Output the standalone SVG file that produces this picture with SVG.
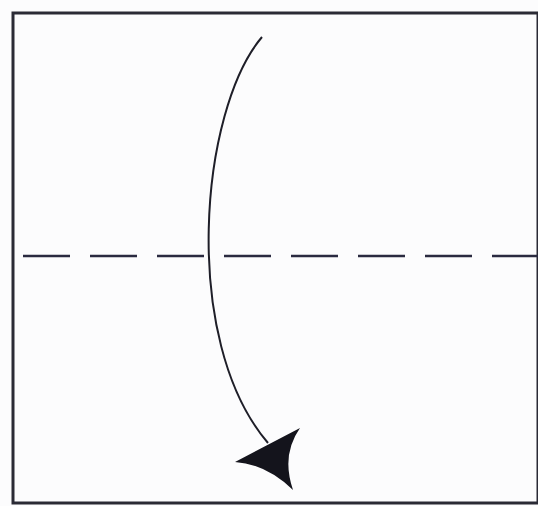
<svg xmlns="http://www.w3.org/2000/svg" width="538" height="506" viewBox="0 0 538 506">
<style>
.frame{fill:none;stroke:#2a2a35;stroke-width:3}
.fold{fill:none;stroke:#2a2a40;stroke-width:2.5;stroke-dasharray:47 20}
.curve{fill:none;stroke:#1e1e28;stroke-width:2}
.head{fill:#14141c;stroke:none}
</style>
<rect width="538" height="506" fill="#fcfcfd"/>
<g id="paper">
<rect class="frame" x="13" y="13" width="525" height="490"/>
</g>
<g id="fold-line">
<line class="fold" x1="23" y1="256" x2="538" y2="256"/>
</g>
<g id="connectors">
<path class="curve" d="M262,37 C200,110 180,340 268,443"/>
<path class="head" d="M235,462 L300,428 Q281,455 293,490 Q266,464 235,462 Z"/>
</g>
</svg>
